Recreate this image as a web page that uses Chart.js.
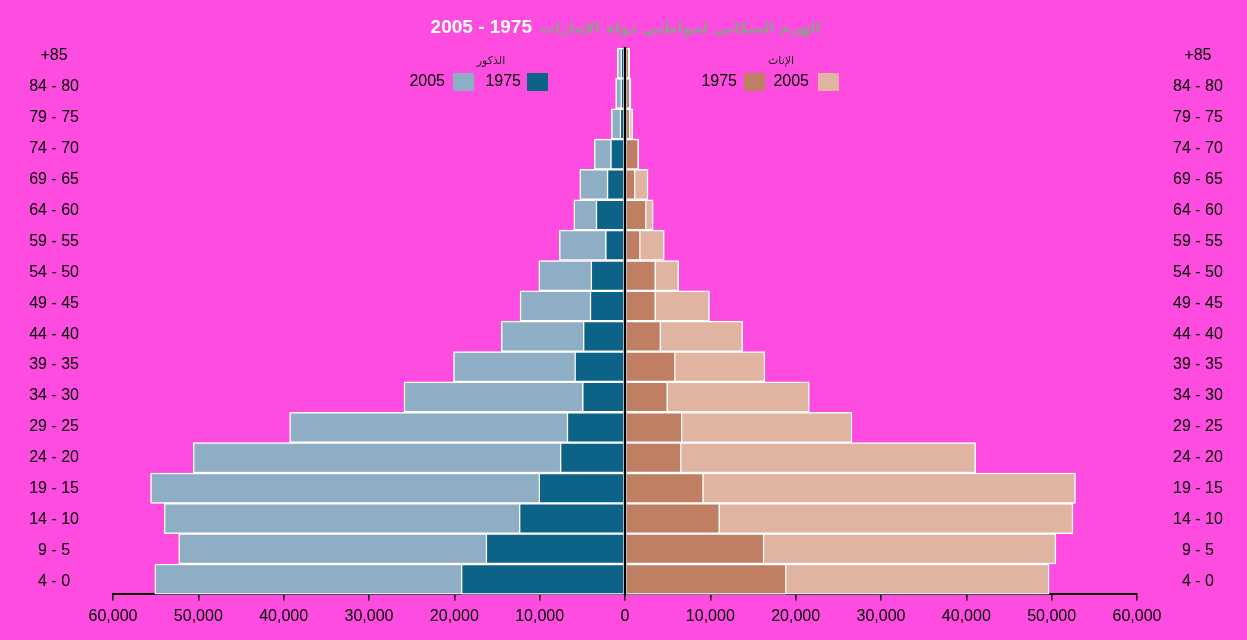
<!DOCTYPE html>
<html>
<head>
<meta charset="utf-8">
<script src="https://cdn.jsdelivr.net/npm/chart.js@4"></script>
<style>
  html, body { margin: 0; padding: 0; background: #ff4ce0; }
  #wrap { width: 1247px; height: 640px; }
</style>
</head>
<body>
<div id="wrap"><canvas id="pyramid"></canvas></div>
<script>
// age groups, top to bottom
const ageGroups = ['+85', '84 - 80', '79 - 75', '74 - 70', '69 - 65', '64 - 60', '59 - 55', '54 - 50', '49 - 45',
  '44 - 40', '39 - 35', '34 - 30', '29 - 25', '24 - 20', '19 - 15', '14 - 10', '9 - 5', '4 - 0'];

const males2005 = [900, 1100, 1600, 3600, 5300, 6000, 7700, 10100, 12300,
  14500, 20100, 25900, 39300, 50600, 55600, 54000, 52300, 55100];
const males1975 = [500, 500, 600, 1700, 2100, 3400, 2300, 4000, 4100,
  4900, 5900, 5000, 6800, 7600, 10100, 12400, 16300, 19200];
const females1975 = [500, 600, 600, 1600, 1200, 2500, 1800, 3600, 3600,
  4200, 5900, 5000, 6700, 6600, 9200, 11100, 16300, 18900];
const females2005 = [550, 700, 900, 1500, 2700, 3300, 4600, 6300, 9900,
  13800, 16400, 21600, 26600, 41100, 52800, 52500, 50500, 49700];

const years = ['1975', '2005'];
const titleText = 'الهرم السكاني لمواطني دولة الإمارات';
const titleYears = '1975 - 2005';

const colors = {
  male1975: '#0c6387',
  male2005: '#8eaec6',
  female1975: '#c07f62',
  female2005: '#e0b4a0'
};

const labelFont = { family: 'Liberation Sans, Arial, sans-serif', size: 16 };

// center line, title and custom legend
const extras = {
  id: 'extras',
  beforeDraw(chart) {
    const ctx = chart.ctx;
    ctx.save();
    ctx.fillStyle = '#ff4ce0';
    ctx.fillRect(0, 0, chart.width, chart.height);
    ctx.restore();
  },
  afterDatasetsDraw(chart) {
    const ctx = chart.ctx;
    const x0 = chart.scales.x.getPixelForValue(0);
    const area = chart.chartArea;
    ctx.save();
    ctx.strokeStyle = '#000';
    ctx.lineWidth = 2.5;
    ctx.beginPath();
    ctx.moveTo(x0, area.top - 1);
    ctx.lineTo(x0, area.bottom);
    ctx.stroke();
    ctx.restore();
  },
  afterDraw(chart) {
    const ctx = chart.ctx;
    ctx.save();
    // title (rtl, two colours)
    ctx.textBaseline = 'middle';
    ctx.font = 'bold 15px DejaVu Sans, sans-serif';
    ctx.fillStyle = '#939a8f';
    ctx.textAlign = 'left';
    ctx.fillText(titleText, 540, 29);
    ctx.font = 'bold 19px Liberation Sans, Arial, sans-serif';
    ctx.direction = 'rtl';
    ctx.fillStyle = '#ffffff';
    ctx.textAlign = 'right';
    ctx.fillText(titleYears, 532, 28);
    ctx.direction = 'ltr';

    // legend group headings
    ctx.font = '11px DejaVu Sans, sans-serif';
    ctx.fillStyle = '#222';
    ctx.textAlign = 'center';
    ctx.fillText('الذكور', 491, 61);
    ctx.fillText('الإناث', 781, 61);

    // legend items: [text, textRight, swatchLeft, colour]
    const items = [
      [years[1], 445, 453, colors.male2005],
      [years[0], 521, 527, colors.male1975],
      [years[0], 737, 744, colors.female1975],
      [years[1], 809, 818, colors.female2005]
    ];
    ctx.font = '16px Liberation Sans, Arial, sans-serif';
    items.forEach(([t, tx, sx, c]) => {
      ctx.fillStyle = '#000';
      ctx.textAlign = 'right';
      ctx.fillText(t, tx, 82);
      ctx.fillStyle = c;
      ctx.fillRect(sx, 73, 21, 18);
    });
    ctx.restore();
  }
};

const barStyle = {
  borderColor: '#ffffff',
  borderWidth: 1.5,
  borderSkipped: false,
  barPercentage: 1,
  categoryPercentage: 1,
  grouped: false
};

// age label axes: one tick per age group
const ageAxis = (position, pad, width) => ({
  type: 'linear',
  axis: 'y',
  position,
  reverse: true,
  offset: false,
  bounds: 'data',
  min: -0.26,
  max: 17.42,
  grid: { display: false, drawTicks: false, offset: false },
  border: { display: false },
  ticks: {
    autoSkip: false,
    crossAlign: 'center',
    padding: pad,
    color: '#000',
    font: labelFont,
    callback: v => ageGroups[v] ?? ''
  },
  afterBuildTicks(s) { s.ticks = ageGroups.map((_, i) => ({ value: i })); },
  afterFit(s) { s.width = width; }
});

new Chart(document.getElementById('pyramid'), {
  type: 'bar',
  data: {
    labels: ageGroups,
    datasets: [
      { label: 'الذكور 1975', data: males1975.map(v => -v), backgroundColor: colors.male1975, ...barStyle },
      { label: 'الإناث 1975', data: females1975, backgroundColor: colors.female1975, ...barStyle },
      { label: 'الذكور 2005', data: males2005.map(v => -v), backgroundColor: colors.male2005, ...barStyle },
      { label: 'الإناث 2005', data: females2005, backgroundColor: colors.female2005, ...barStyle }
    ]
  },
  options: {
    indexAxis: 'y',
    responsive: true,
    maintainAspectRatio: false,
    animation: false,
    layout: { padding: { top: 48, left: 0, right: 0, bottom: 0 } },
    plugins: {
      legend: { display: false },
      title: { display: false },
      tooltip: { enabled: false }
    },
    scales: {
      x: {
        min: -60000,
        max: 60000,
        grid: { display: true, drawOnChartArea: false, drawTicks: true, tickLength: 6, color: '#000', lineWidth: 1.5 },
        border: { display: true, color: '#000', width: 2 },
        ticks: {
          stepSize: 10000,
          padding: 7,
          color: '#000',
          font: labelFont,
          maxRotation: 0,
          callback: v => Math.abs(v).toLocaleString('en-US')
        },
        afterFit(s) { s.height = 44; }
      },
      y: { type: 'category', display: false, offset: true },
      yl: ageAxis('left', 34, 113),
      yr: ageAxis('right', 36, 110)
    }
  },
  plugins: [extras]
});
</script>
</body>
</html>
